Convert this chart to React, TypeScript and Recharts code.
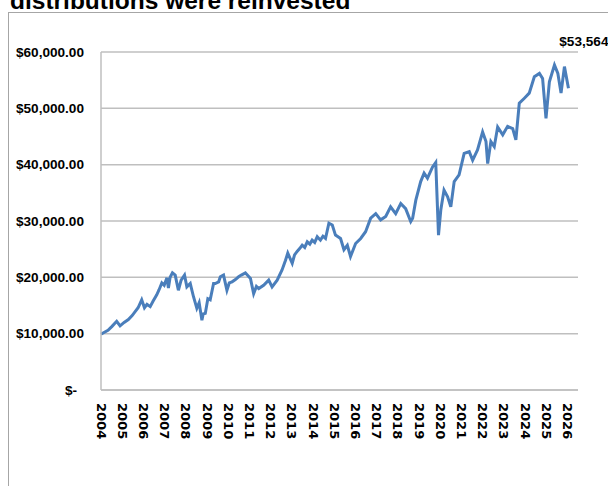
import React from 'react';
import { LineChart, Line, XAxis, YAxis, CartesianGrid, ReferenceDot } from 'recharts';

const TITLE = 'distributions were reinvested';
const END_LABEL = '$53,564';

const years = [
  2004.0, 2004.14, 2004.33, 2004.52, 2004.74, 2004.9, 2005.09, 2005.29, 2005.47, 2005.61,
  2005.75, 2005.92, 2006.05, 2006.17, 2006.32, 2006.46, 2006.63, 2006.74, 2006.87, 2006.98,
  2007.11, 2007.18, 2007.26, 2007.37, 2007.5, 2007.65, 2007.78, 2007.94, 2008.05, 2008.21,
  2008.36, 2008.52, 2008.63, 2008.76, 2008.82, 2008.92, 2009.04, 2009.15, 2009.31, 2009.39,
  2009.55, 2009.63, 2009.78, 2009.94, 2010.05, 2010.18, 2010.34, 2010.49, 2010.62, 2010.81,
  2011.05, 2011.2, 2011.33, 2011.44, 2011.67, 2011.91, 2012.07, 2012.31, 2012.54, 2012.7,
  2012.81, 2013.02, 2013.13, 2013.25, 2013.37, 2013.49, 2013.61, 2013.73, 2013.85, 2013.96,
  2014.08, 2014.2, 2014.35, 2014.47, 2014.59,
  2014.75, 2014.91, 2015.06, 2015.3, 2015.46, 2015.62, 2015.77, 2016.01, 2016.25, 2016.48,
  2016.72, 2016.96, 2017.19, 2017.43, 2017.66, 2017.9, 2018.14, 2018.37, 2018.61, 2018.7,
  2018.85, 2019.08, 2019.24, 2019.4, 2019.64, 2019.79, 2019.92, 2020.03, 2020.18, 2020.35,
  2020.5, 2020.66, 2020.89, 2021.13, 2021.37, 2021.53, 2021.76, 2022.0, 2022.16, 2022.24,
  2022.39, 2022.55, 2022.71, 2022.95, 2023.18, 2023.42, 2023.57, 2023.73, 2023.97, 2024.2,
  2024.44, 2024.68, 2024.83, 2024.99, 2025.15, 2025.39, 2025.55, 2025.7, 2025.86, 2026.05,
];

const values = [
  9900, 10200, 10600, 11300, 12200, 11400, 12000, 12500, 13200, 13900,
  14600, 16000, 14600, 15200, 14800, 15800, 16900, 17800, 19000, 18600,
  19900, 18100, 20000, 20800, 20400, 17700, 19500, 20400, 18300, 18900,
  16600, 14500, 15500, 12400, 13500, 13600, 16200, 16000, 18900, 18900,
  19200, 20100, 20400, 17700, 19000, 19200, 19600, 20100, 20400, 20800,
  19800, 17100, 18400, 18000, 18600, 19500, 18300, 19500, 21300, 23000,
  24300, 22500, 24000, 24600, 25100, 25700, 25300, 26300, 25900, 26600,
  26200, 27200, 26600, 27300, 26900,
  29600, 29300, 27500, 26900, 24900, 25700, 23700, 26000, 26900, 28100,
  30500, 31300, 30200, 30800, 32500, 31300, 33100, 32200, 29900, 30500,
  33700, 37000, 38500, 37600, 39600, 40400, 27500, 32000, 35500, 34300,
  32500, 37000, 38200, 42000, 42300, 40800, 42600, 45800, 44100, 40200,
  44100, 43200, 46700, 45300, 46800, 46400, 44400, 50900, 51800, 52700,
  55600, 56200, 55300, 48200, 54700, 57700, 56200, 52700, 57400, 53564,
];

const yTicks = [0, 10000, 20000, 30000, 40000, 50000, 60000];
const xTicks = [
  2004, 2005, 2006, 2007, 2008, 2009, 2010, 2011, 2012, 2013, 2014, 2015,
  2016, 2017, 2018, 2019, 2020, 2021, 2022, 2023, 2024, 2025, 2026,
];

const data = years.map((t, i) => ({ t, v: values[i] }));

const fmtMoney = (v: number) =>
  v === 0 ? '$-' : '$' + v.toLocaleString('en-US', { minimumFractionDigits: 2, maximumFractionDigits: 2 });

const YTick = (props: any) => {
  const { x, y, payload } = props;
  const isZero = payload.value === 0;
  return (
    <text
      x={isZero ? x - 7 : x}
      y={y}
      textAnchor="end"
      dominantBaseline="central"
      fontFamily="'Liberation Sans', Arial, sans-serif"
      fontWeight="bold"
      fontSize={13.6}
      fill="#000"
    >
      {fmtMoney(payload.value)}
    </text>
  );
};

const XTick = (props: any) => {
  const { x, y, payload } = props;
  return (
    <text
      transform={`translate(${x},${y}) rotate(90)`}
      textAnchor="start"
      dominantBaseline="central"
      fontFamily="'DejaVu Sans', sans-serif"
      fontWeight="bold"
      fontSize={13}
      fill="#000"
    >
      {payload.value}
    </text>
  );
};

const EndLabel = (props: any) => {
  const vb = props.viewBox || {};
  return (
    <text
      x={(vb.x ?? 0) + 40}
      y={(vb.y ?? 0) - 6}
      textAnchor="end"
      fontFamily="'Liberation Sans', Arial, sans-serif"
      fontWeight="bold"
      fontSize={13.6}
      fill="#000"
    >
      {END_LABEL}
    </text>
  );
};

export default function App() {
  const last = data[data.length - 1];
  return (
    <div style={{ position: 'absolute', left: 0, top: 0, width: 608, height: 486, overflow: 'hidden', background: '#fff' }}>
      <div
        style={{
          position: 'absolute',
          left: 8,
          top: 12,
          width: 700,
          height: 600,
          border: '1px solid #a6a6a6',
          boxSizing: 'border-box',
        }}
      />
      <div style={{ position: 'absolute', left: 0, top: 0 }}>
        <LineChart width={608} height={486} data={data} margin={{ top: 52, right: 30, bottom: 0, left: 0 }}>
          <CartesianGrid horizontal vertical={false} stroke="#bfbfbf" strokeWidth={1.5} />
          <XAxis
            dataKey="t"
            type="number"
            domain={[2004, 2026.5]}
            ticks={xTicks}
            interval={0}
            tick={<XTick />}
            tickLine={false}
            tickSize={0}
            tickMargin={13}
            height={96}
            axisLine={{ stroke: '#bfbfbf', strokeWidth: 1.5 }}
          />
          <YAxis
            type="number"
            domain={[0, 60000]}
            ticks={yTicks}
            interval={0}
            tick={<YTick />}
            tickLine={false}
            tickSize={0}
            tickMargin={17}
            width={101}
            axisLine={{ stroke: '#bfbfbf', strokeWidth: 1.5 }}
          />
          <Line
            type="linear"
            dataKey="v"
            stroke="#4a7ebb"
            strokeWidth={3}
            dot={false}
            isAnimationActive={false}
          />
          <ReferenceDot x={last.t} y={60000} r={0} ifOverflow="visible" label={<EndLabel />} />
        </LineChart>
      </div>
      <svg width={608} height={40} style={{ position: 'absolute', left: 0, top: 0 }}>
        <text
          x={10}
          y={9}
          fontFamily="'Liberation Sans', Arial, sans-serif"
          fontWeight="bold"
          fontSize={24.5}
          fill="#000"
        >
          {TITLE}
        </text>
      </svg>
    </div>
  );
}
